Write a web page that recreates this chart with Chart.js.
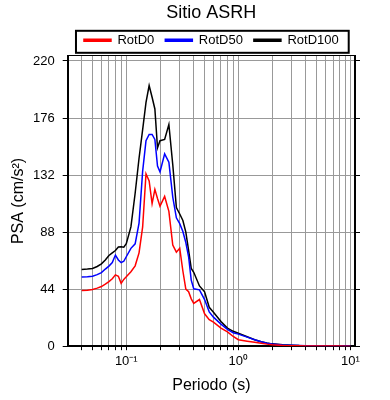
<!DOCTYPE html>
<html>
<head>
<meta charset="utf-8">
<script src="https://cdn.jsdelivr.net/npm/chart.js@4"></script>
<style>
  body { margin: 0; background: #fff; }
  #wrap { width: 390px; height: 400px; }
</style>
</head>
<body>
<div id="wrap"><canvas id="myChart"></canvas></div>
<script>
// periods (s) and spectral values (cm/s2)
const periods = [0.04, 0.045, 0.05, 0.055, 0.06, 0.065, 0.07, 0.075, 0.08, 0.085, 0.09, 0.095,
  0.1, 0.11, 0.12, 0.13, 0.14, 0.15, 0.16, 0.17, 0.18, 0.19, 0.2,
  0.22, 0.24, 0.26, 0.28, 0.3, 0.32, 0.34, 0.36, 0.38, 0.4,
  0.45, 0.5, 0.55, 0.6, 0.7, 0.8, 0.9, 1.0,
  1.2, 1.4, 1.6, 1.8, 2.0, 2.5, 3, 3.5, 4, 5, 6, 7, 8, 9, 10];

const rotD0 = [43, 43.2, 43.8, 44.8, 46, 47.8, 49.8, 52, 55, 54, 48.5, 51.5,
  53.5, 57.5, 62, 72, 92, 133, 127.5, 110, 121, 114, 108,
  115.5, 104, 78, 72.5, 75.5, 58, 44, 42, 36.5, 33,
  36, 25, 20.5, 18.5, 14, 11, 7.5, 5,
  3.9, 3, 2.3, 1.6, 1.1, 0.6, 0.4, 0.3, 0.2, 0.15, 0.1, 0.1, 0.1, 0.05, 0.05];

const rotD50 = [53.3, 53.6, 54, 55.2, 56.8, 59.5, 61.8, 64.5, 70.3, 66.5, 64.5, 65.5,
  69, 75.5, 79, 95, 135, 158.5, 163.3, 163.3, 159.5, 139, 134.5,
  148.4, 142, 115, 99, 94.5, 88.5, 80, 69, 51, 44.3,
  43.5, 36, 26.5, 22.4, 17, 13, 10.3, 9.3,
  7, 5, 3.5, 2.3, 1.7, 1.0, 0.7, 0.5, 0.4, 0.3, 0.2, 0.15, 0.1, 0.1, 0.1];

const rotD100 = [59.2, 59.5, 60, 61.5, 63.5, 66.5, 70, 72, 73.8, 76.5, 76.7, 76.4,
  79, 92, 118, 145, 167, 188, 201, 192, 183, 153, 158.5,
  159.5, 171, 140, 107, 102, 97, 88, 74, 60, 57,
  46.5, 42, 30, 26.2, 19, 14, 11.5, 10,
  7.3, 5, 3.5, 2.5, 1.8, 1.1, 0.8, 0.5, 0.4, 0.3, 0.2, 0.15, 0.1, 0.1, 0.1];

const yTicks = [0, 44, 88, 132, 176, 220];
const xTicks = [0.04, 0.05, 0.06, 0.07, 0.08, 0.09, 0.1, 0.2, 0.3, 0.4, 0.5, 0.6, 0.7, 0.8, 0.9,
  1, 2, 3, 4, 5, 6, 7, 8, 9, 10];
const xMajor = [0.1, 1, 10];
const xMajorLabels = ["10⁻¹", "10⁰", "10¹"];

const xMin = 0.03;
const xMax = 11;
const yMax = 224;

Chart.defaults.font.family = "'Liberation Sans', Arial, sans-serif";
Chart.defaults.color = "#000";

function toPoints(values) {
  return periods.map((p, i) => ({ x: p, y: values[i] }));
}

function setYTicks(scale) {
  scale.ticks = yTicks.map((v) => ({ value: v }));
}

// box around the legend
const legendFrame = {
  id: "legendFrame",
  afterDraw(chart) {
    const boxes = chart.legend.legendHitBoxes;
    if (!boxes || !boxes.length) return;
    const first = boxes[0];
    const last = boxes[boxes.length - 1];
    const ctx = chart.ctx;
    ctx.save();
    ctx.strokeStyle = "#000";
    ctx.lineWidth = 2;
    ctx.strokeRect(
      first.left - 8,
      first.top - 3,
      last.left + last.width - first.left + 18,
      first.height + 9
    );
    ctx.restore();
  },
};

const ctx = document.getElementById("myChart");

new Chart(ctx, {
  type: "line",
  data: {
    datasets: [
      {
        label: "RotD0",
        data: toPoints(rotD0),
        borderColor: "#ff0000",
        backgroundColor: "#ff0000",
        borderWidth: 1.5,
        pointRadius: 0,
      },
      {
        label: "RotD50",
        data: toPoints(rotD50),
        borderColor: "#0000ff",
        backgroundColor: "#0000ff",
        borderWidth: 1.5,
        pointRadius: 0,
      },
      {
        label: "RotD100",
        data: toPoints(rotD100),
        borderColor: "#000000",
        backgroundColor: "#000000",
        borderWidth: 1.5,
        pointRadius: 0,
      },
    ],
  },
  options: {
    responsive: true,
    maintainAspectRatio: false,
    animation: false,
    devicePixelRatio: 1,
    layout: {
      padding: { left: 10, right: 30, top: 0, bottom: 5 },
    },
    plugins: {
      title: {
        display: true,
        text: "Sitio ASRH",
        fullSize: false,
        color: "#000",
        font: { size: 18, weight: "normal", lineHeight: 1.1 },
        padding: { top: 3, bottom: 0 },
      },
      legend: {
        fullSize: false,
        maxHeight: 33,
        labels: {
          boxWidth: 27,
          boxHeight: 2,
          padding: 11,
          color: "#000",
          font: { size: 13 },
        },
      },
      tooltip: { enabled: false },
    },
    scales: {
      x: {
        type: "logarithmic",
        min: xMin,
        max: xMax,
        afterBuildTicks: (scale) => {
          scale.ticks = xTicks.map((v) => ({ value: v }));
        },
        ticks: {
          autoSkip: false,
          maxRotation: 0,
          padding: 3,
          color: "#000",
          font: { size: 13 },
          callback: (value) => {
            const i = xMajor.indexOf(value);
            return i >= 0 ? xMajorLabels[i] : "";
          },
        },
        grid: { color: "#999", tickColor: "#000", tickLength: 4 },
        border: { color: "#000", width: 2 },
        title: {
          display: true,
          text: "Periodo (s)",
          color: "#000",
          font: { size: 16 },
          padding: { top: 4, bottom: 0 },
        },
      },
      x2: {
        type: "logarithmic",
        position: "top",
        min: xMin,
        max: xMax,
        ticks: { display: false },
        grid: { drawOnChartArea: false, drawTicks: false },
        border: { color: "#000", width: 1 },
      },
      y: {
        min: 0,
        max: yMax,
        afterBuildTicks: setYTicks,
        ticks: { padding: 8, color: "#000", font: { size: 13 } },
        grid: { color: "#999", tickColor: "#000", tickLength: 5 },
        border: { color: "#000", width: 2 },
        title: {
          display: true,
          text: "PSA (cm/s²)",
          color: "#000",
          font: { size: 16, lineHeight: 0.75 },
          padding: { top: 3, bottom: 0 },
        },
      },
      y2: {
        position: "right",
        min: 0,
        max: yMax,
        afterBuildTicks: setYTicks,
        ticks: { display: false },
        grid: { drawOnChartArea: false, tickColor: "#000", tickLength: 5 },
        border: { color: "#000", width: 2 },
      },
    },
  },
  plugins: [legendFrame],
});
</script>
</body>
</html>
